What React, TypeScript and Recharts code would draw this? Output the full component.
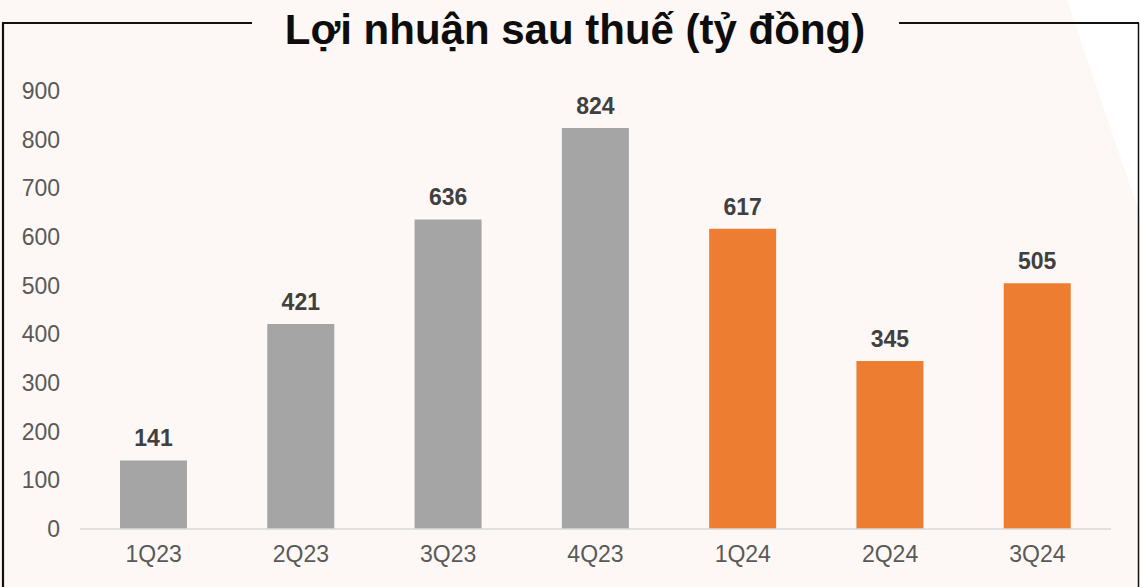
import React from 'react';
import { BarChart, Bar, XAxis, YAxis, Cell, LabelList } from 'recharts';

const quarters = ['1Q23', '2Q23', '3Q23', '4Q23', '1Q24', '2Q24', '3Q24'];
const profits = [141, 421, 636, 824, 617, 345, 505];
const yTicks = [0, 100, 200, 300, 400, 500, 600, 700, 800, 900];

const data = quarters.map((q, i) => ({ name: q, value: profits[i] }));

const W = 1140;
const H = 587;
const GRAY = '#a5a5a5';
const ORANGE = '#ed7d31';

const Backdrop: React.FC = () => (
  <svg width={W} height={H} style={{ position: 'absolute', left: 0, top: 0 }}>
    <rect x={0} y={0} width={W} height={H} fill="#fdf8f5" />
    <polygon points={`1067,0 ${W},0 ${W},215`} fill="#ffffff" />
    <line x1={3} y1={23} x2={3} y2={H} stroke="#111" strokeWidth={2.2} />
    <line x1={2} y1={23} x2={252} y2={23} stroke="#111" strokeWidth={2.2} />
    <line x1={899} y1={23} x2={1139} y2={23} stroke="#111" strokeWidth={2.2} />
    <line x1={1138.5} y1={23} x2={1138.5} y2={H} stroke="#111" strokeWidth={1.5} />
    <text
      x={575}
      y={44}
      textAnchor="middle"
      fontFamily="'Liberation Sans', Arial, sans-serif"
      fontWeight="bold"
      fontSize={42}
      fill="#0d0d0d"
    >
      Lợi nhuận sau thuế (tỷ đồng)
    </text>
  </svg>
);

const App: React.FC = () => {
  return (
    <div style={{ position: 'fixed', left: 0, top: 0, width: W, height: H }}>
      <Backdrop />
      <div style={{ position: 'absolute', left: 0, top: 0 }}>
        <BarChart
          width={W}
          height={H}
          data={data}
          margin={{ top: 91, right: 29, left: 0, bottom: 28 }}
          style={{ fontFamily: "'Liberation Sans', Arial, sans-serif" }}
        >
          <XAxis
            dataKey="name"
            height={30}
            axisLine={{ stroke: '#d9d9d9', strokeWidth: 1.5 }}
            tickLine={false}
            tickMargin={11}
            tick={{ fill: '#595959', fontSize: 23 }}
            interval={0}
          />
          <YAxis
            width={80}
            domain={[0, 900]}
            ticks={yTicks}
            axisLine={false}
            tickLine={false}
            tickMargin={14}
            tick={{ fill: '#595959', fontSize: 23 }}
            interval={0}
          />
          <Bar dataKey="value" barSize={67} isAnimationActive={false}>
            {data.map((d, i) => (
              <Cell key={`cell-${i}`} fill={d.name.endsWith('23') ? GRAY : ORANGE} />
            ))}
            <LabelList
              dataKey="value"
              position="top"
              offset={14}
              fill="#404040"
              fontSize={23}
              fontWeight="bold"
            />
          </Bar>
        </BarChart>
      </div>
    </div>
  );
};

export default App;
